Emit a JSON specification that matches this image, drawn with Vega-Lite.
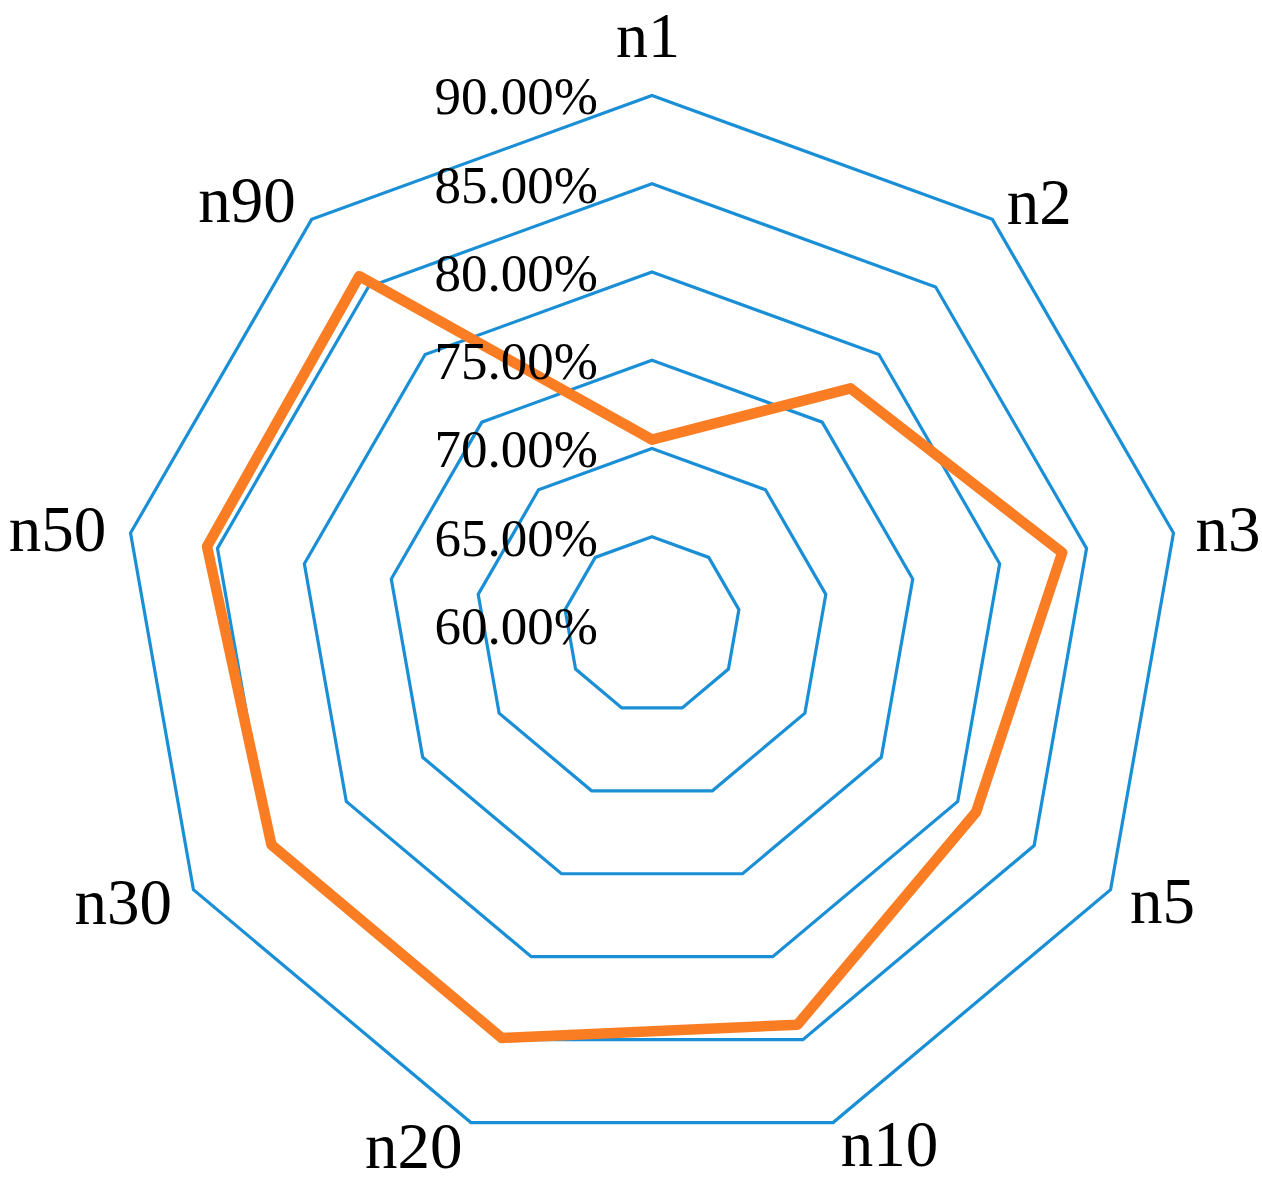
{
  "$schema": "https://vega.github.io/schema/vega-lite/v6.json",
  "width": 1262,
  "height": 1185,
  "autosize": {"type": "none"},
  "padding": 0,
  "background": "white",
  "config": {"view": {"stroke": null}, "font": "Liberation Serif"},
  "datasets": {
    "series": [
      {"axis": "n1", "i": 0, "value": 0.705},
      {"axis": "n2", "i": 1, "value": 0.775},
      {"axis": "n3", "i": 2, "value": 0.836},
      {"axis": "n5", "i": 3, "value": 0.812},
      {"axis": "n10", "i": 4, "value": 0.841},
      {"axis": "n20", "i": 5, "value": 0.849},
      {"axis": "n30", "i": 6, "value": 0.849},
      {"axis": "n50", "i": 7, "value": 0.856},
      {"axis": "n90", "i": 8, "value": 0.858}
    ],
    "ticks": [
      {"level": 0.60}, {"level": 0.65}, {"level": 0.70}, {"level": 0.75},
      {"level": 0.80}, {"level": 0.85}, {"level": 0.90}
    ],
    "rings": [
      {"level": 0.65, "i": 0}, {"level": 0.65, "i": 1}, {"level": 0.65, "i": 2}, {"level": 0.65, "i": 3}, {"level": 0.65, "i": 4}, {"level": 0.65, "i": 5}, {"level": 0.65, "i": 6}, {"level": 0.65, "i": 7}, {"level": 0.65, "i": 8},
      {"level": 0.70, "i": 0}, {"level": 0.70, "i": 1}, {"level": 0.70, "i": 2}, {"level": 0.70, "i": 3}, {"level": 0.70, "i": 4}, {"level": 0.70, "i": 5}, {"level": 0.70, "i": 6}, {"level": 0.70, "i": 7}, {"level": 0.70, "i": 8},
      {"level": 0.75, "i": 0}, {"level": 0.75, "i": 1}, {"level": 0.75, "i": 2}, {"level": 0.75, "i": 3}, {"level": 0.75, "i": 4}, {"level": 0.75, "i": 5}, {"level": 0.75, "i": 6}, {"level": 0.75, "i": 7}, {"level": 0.75, "i": 8},
      {"level": 0.80, "i": 0}, {"level": 0.80, "i": 1}, {"level": 0.80, "i": 2}, {"level": 0.80, "i": 3}, {"level": 0.80, "i": 4}, {"level": 0.80, "i": 5}, {"level": 0.80, "i": 6}, {"level": 0.80, "i": 7}, {"level": 0.80, "i": 8},
      {"level": 0.85, "i": 0}, {"level": 0.85, "i": 1}, {"level": 0.85, "i": 2}, {"level": 0.85, "i": 3}, {"level": 0.85, "i": 4}, {"level": 0.85, "i": 5}, {"level": 0.85, "i": 6}, {"level": 0.85, "i": 7}, {"level": 0.85, "i": 8},
      {"level": 0.90, "i": 0}, {"level": 0.90, "i": 1}, {"level": 0.90, "i": 2}, {"level": 0.90, "i": 3}, {"level": 0.90, "i": 4}, {"level": 0.90, "i": 5}, {"level": 0.90, "i": 6}, {"level": 0.90, "i": 7}, {"level": 0.90, "i": 8}
    ]
  },
  "layer": [
    {
      "data": {"name": "rings"},
      "transform": [
        {"calculate": "(datum.level - 0.6) * 100 * sin(datum.i * 2 * PI / 9)", "as": "px"},
        {"calculate": "(datum.level - 0.6) * 100 * cos(datum.i * 2 * PI / 9)", "as": "py"}
      ],
      "mark": {"type": "line", "interpolate": "linear-closed", "stroke": "#1a8fd6", "strokeWidth": 3.2},
      "encoding": {
        "x": {"field": "px", "type": "quantitative", "scale": {"domain": [-36.94, 34.56], "nice": false, "zero": false}, "axis": null},
        "y": {"field": "py", "type": "quantitative", "scale": {"domain": [-31.73, 35.41], "nice": false, "zero": false}, "axis": null},
        "detail": {"field": "level", "type": "nominal"},
        "order": {"field": "i", "type": "quantitative"}
      }
    },
    {
      "data": {"name": "series"},
      "transform": [
        {"calculate": "(datum.value - 0.6) * 100 * sin(datum.i * 2 * PI / 9)", "as": "px"},
        {"calculate": "(datum.value - 0.6) * 100 * cos(datum.i * 2 * PI / 9)", "as": "py"}
      ],
      "mark": {"type": "line", "interpolate": "linear-closed", "stroke": "#fa7d24", "strokeWidth": 10.5, "strokeJoin": "round"},
      "encoding": {
        "x": {"field": "px", "type": "quantitative", "scale": {"domain": [-36.94, 34.56], "nice": false, "zero": false}, "axis": null},
        "y": {"field": "py", "type": "quantitative", "scale": {"domain": [-31.73, 35.41], "nice": false, "zero": false}, "axis": null},
        "order": {"field": "i", "type": "quantitative"}
      }
    },
    {
      "data": {"name": "ticks"},
      "transform": [
        {"calculate": "0", "as": "px"},
        {"calculate": "(datum.level - 0.6) * 100", "as": "py"}
      ],
      "mark": {"type": "text", "align": "right", "baseline": "alphabetic", "dx": -54, "dy": 19, "fontSize": 53, "font": "Liberation Serif", "color": "black"},
      "encoding": {
        "x": {"field": "px", "type": "quantitative", "scale": {"domain": [-36.94, 34.56], "nice": false, "zero": false}, "axis": null},
        "y": {"field": "py", "type": "quantitative", "scale": {"domain": [-31.73, 35.41], "nice": false, "zero": false}, "axis": null},
        "text": {"field": "level", "type": "quantitative", "format": ".2%"}
      }
    },
    {
      "data": {"name": "series"},
      "transform": [
        {"filter": "datum.i >= 1 && datum.i <= 4"},
        {"calculate": "31.27 * sin(datum.i * 2 * PI / 9)", "as": "px"},
        {"calculate": "31.27 * cos(datum.i * 2 * PI / 9)", "as": "py"}
      ],
      "mark": {"type": "text", "align": "left", "baseline": "middle", "dy": 2, "fontSize": 65, "font": "Liberation Serif", "color": "black"},
      "encoding": {
        "x": {"field": "px", "type": "quantitative", "scale": {"domain": [-36.94, 34.56], "nice": false, "zero": false}, "axis": null},
        "y": {"field": "py", "type": "quantitative", "scale": {"domain": [-31.73, 35.41], "nice": false, "zero": false}, "axis": null},
        "text": {"field": "axis", "type": "nominal"}
      }
    },
    {
      "data": {"name": "series"},
      "transform": [
        {"filter": "datum.i >= 5"},
        {"calculate": "31.4 * sin(datum.i * 2 * PI / 9)", "as": "px"},
        {"calculate": "31.4 * cos(datum.i * 2 * PI / 9)", "as": "py"}
      ],
      "mark": {"type": "text", "align": "right", "baseline": "middle", "dy": 2, "fontSize": 65, "font": "Liberation Serif", "color": "black"},
      "encoding": {
        "x": {"field": "px", "type": "quantitative", "scale": {"domain": [-36.94, 34.56], "nice": false, "zero": false}, "axis": null},
        "y": {"field": "py", "type": "quantitative", "scale": {"domain": [-31.73, 35.41], "nice": false, "zero": false}, "axis": null},
        "text": {"field": "axis", "type": "nominal"}
      }
    },
    {
      "data": {"name": "series"},
      "transform": [
        {"filter": "datum.i == 0"},
        {"calculate": "0", "as": "px"},
        {"calculate": "30", "as": "py"}
      ],
      "mark": {"type": "text", "align": "center", "baseline": "alphabetic", "dx": -4, "dy": -38, "fontSize": 64, "font": "Liberation Serif", "color": "black"},
      "encoding": {
        "x": {"field": "px", "type": "quantitative", "scale": {"domain": [-36.94, 34.56], "nice": false, "zero": false}, "axis": null},
        "y": {"field": "py", "type": "quantitative", "scale": {"domain": [-31.73, 35.41], "nice": false, "zero": false}, "axis": null},
        "text": {"field": "axis", "type": "nominal"}
      }
    }
  ]
}
